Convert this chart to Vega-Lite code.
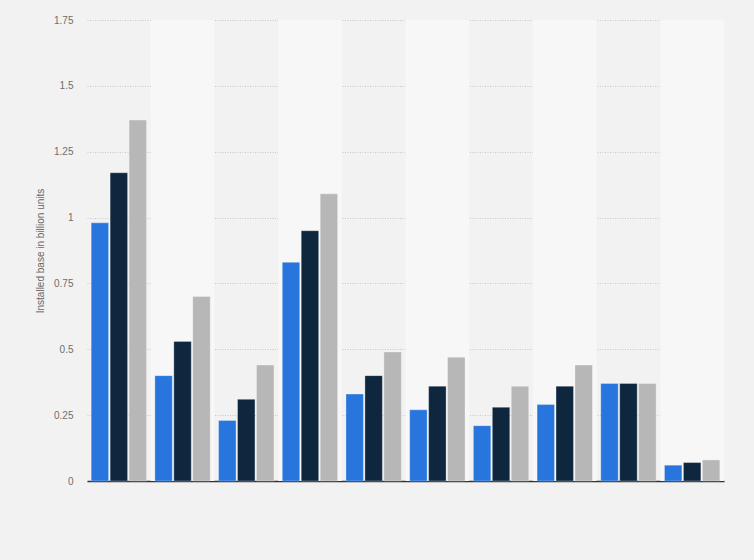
{
  "$schema": "https://vega.github.io/schema/vega-lite/v6.json",
  "autosize": "none",
  "width": 637,
  "height": 461,
  "padding": {"left": 87, "top": 20, "right": 30, "bottom": 79},
  "background": "#f2f2f2",
  "config": {
    "view": {"stroke": null},
    "font": "Liberation Sans"
  },
  "datasets": {
    "bars": [
      {"category": "C1", "series": "S1", "value": 0.98},
      {"category": "C1", "series": "S2", "value": 1.17},
      {"category": "C1", "series": "S3", "value": 1.37},
      {"category": "C2", "series": "S1", "value": 0.40},
      {"category": "C2", "series": "S2", "value": 0.53},
      {"category": "C2", "series": "S3", "value": 0.70},
      {"category": "C3", "series": "S1", "value": 0.23},
      {"category": "C3", "series": "S2", "value": 0.31},
      {"category": "C3", "series": "S3", "value": 0.44},
      {"category": "C4", "series": "S1", "value": 0.83},
      {"category": "C4", "series": "S2", "value": 0.95},
      {"category": "C4", "series": "S3", "value": 1.09},
      {"category": "C5", "series": "S1", "value": 0.33},
      {"category": "C5", "series": "S2", "value": 0.40},
      {"category": "C5", "series": "S3", "value": 0.49},
      {"category": "C6", "series": "S1", "value": 0.27},
      {"category": "C6", "series": "S2", "value": 0.36},
      {"category": "C6", "series": "S3", "value": 0.47},
      {"category": "C7", "series": "S1", "value": 0.21},
      {"category": "C7", "series": "S2", "value": 0.28},
      {"category": "C7", "series": "S3", "value": 0.36},
      {"category": "C8", "series": "S1", "value": 0.29},
      {"category": "C8", "series": "S2", "value": 0.36},
      {"category": "C8", "series": "S3", "value": 0.44},
      {"category": "C9", "series": "S1", "value": 0.37},
      {"category": "C9", "series": "S2", "value": 0.37},
      {"category": "C9", "series": "S3", "value": 0.37},
      {"category": "C10", "series": "S1", "value": 0.06},
      {"category": "C10", "series": "S2", "value": 0.07},
      {"category": "C10", "series": "S3", "value": 0.08}
    ],
    "bands": [
      {"category": "C2"},
      {"category": "C4"},
      {"category": "C6"},
      {"category": "C8"},
      {"category": "C10"}
    ]
  },
  "encoding": {
    "x": {
      "field": "category",
      "type": "nominal",
      "sort": null,
      "scale": {
        "domain": ["C1","C2","C3","C4","C5","C6","C7","C8","C9","C10"],
        "paddingInner": 0,
        "paddingOuter": 0
      },
      "axis": {
        "title": null,
        "labels": false,
        "ticks": false,
        "domain": true,
        "domainColor": "#333333",
        "domainWidth": 1.5
      }
    }
  },
  "layer": [
    {
      "data": {"name": "bands"},
      "mark": {"type": "bar", "color": "#f7f7f7"},
      "encoding": {}
    },
    {
      "data": {"name": "bars"},
      "mark": {"type": "bar", "stroke": "#ffffff", "strokeWidth": 0.6, "strokeOpacity": 0.5},
      "encoding": {
        "xOffset": {
          "field": "series",
          "type": "nominal",
          "scale": {"paddingInner": 0.08, "paddingOuter": 0.22}
        },
        "y": {
          "field": "value",
          "type": "quantitative",
          "scale": {"domain": [0, 1.75], "nice": false},
          "axis": {
            "title": "Installed base in billion units",
            "titleColor": "#666666",
            "titleFontSize": 10,
            "titleFontWeight": "normal",
            "titlePadding": 8,
            "values": [0, 0.25, 0.5, 0.75, 1, 1.25, 1.5, 1.75],
            "labelExpr": "'' + datum.value",
            "labelColor": "#6e6e6e",
            "labelFontSize": 10,
            "labelPadding": 14,
            "ticks": false,
            "domain": false,
            "grid": true,
            "gridColor": "#c8c8c8",
            "gridDash": [1, 1.5],
            "gridWidth": 1
          }
        },
        "color": {
          "field": "series",
          "type": "nominal",
          "scale": {"domain": ["S1", "S2", "S3"], "range": ["#2876dd", "#0f263f", "#b7b7b7"]},
          "legend": null
        }
      }
    }
  ]
}
